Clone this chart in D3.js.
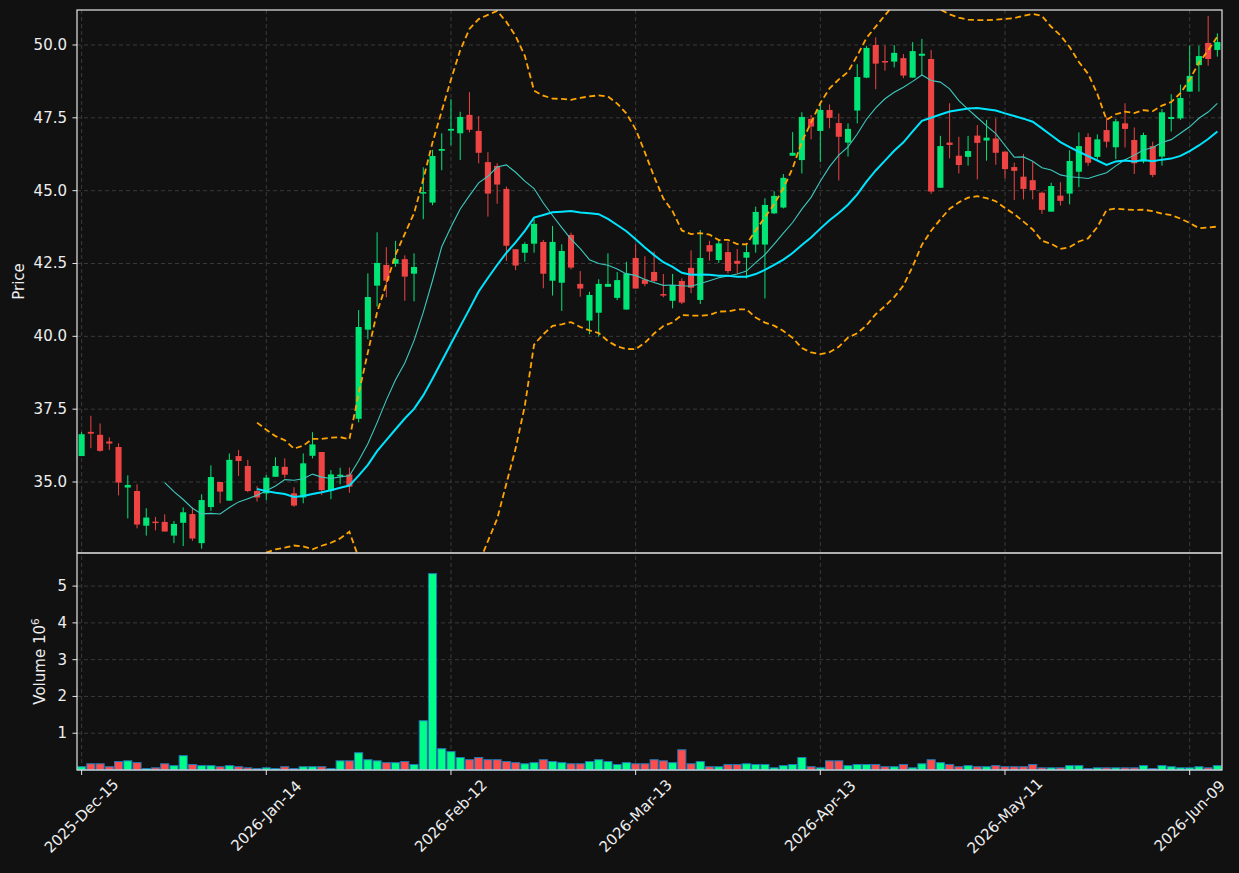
<!DOCTYPE html>
<html>
<head>
<meta charset="utf-8">
<script src="https://cdn.jsdelivr.net/npm/d3@7"></script>
<style>
  body { margin: 0; background: #111111; }
  text { font-family: "DejaVu Sans", sans-serif; }
</style>
</head>
<body>
<div class="canva"></div>
<script>
// daily OHLC
const open = [
  35.89,36.72,36.62,36.39,36.20,34.81,34.69,33.50,33.64,33.63,
  33.16,33.60,33.90,32.90,34.14,35.00,34.36,35.89,35.55,34.69,
  34.61,35.18,35.52,34.61,34.47,35.90,36.03,34.70,35.20,35.26,
  37.17,40.23,41.74,42.45,42.49,42.65,42.15,44.90,44.59,46.37,
  47.06,46.97,47.60,47.05,45.98,45.85,45.06,42.99,42.87,43.18,
  43.24,41.91,41.84,43.48,41.80,40.54,40.81,41.70,41.32,40.92,
  42.69,41.95,42.21,41.45,41.22,41.90,42.35,41.25,43.13,42.62,
  42.89,42.59,42.70,43.15,43.15,44.22,44.42,46.20,46.05,47.46,
  47.05,47.77,47.32,46.65,47.75,48.88,50.00,49.45,49.43,49.55,
  48.88,49.63,49.52,45.10,46.65,46.20,46.16,46.89,46.72,46.79,
  46.34,45.81,45.48,45.36,44.93,44.28,44.83,44.90,45.65,46.84,
  46.16,47.08,46.49,47.31,46.74,46.00,46.53,46.17,47.46,47.48,
  48.40,49.31,50.07,49.83
];
const high = [
  36.71,37.27,37.01,36.53,36.33,35.23,34.92,34.10,33.80,33.89,
  33.66,34.13,34.13,34.58,35.57,35.00,35.98,36.10,35.76,34.86,
  35.24,35.85,35.81,34.82,35.98,36.71,36.03,35.41,35.49,35.50,
  40.90,42.16,43.57,43.06,43.28,42.78,42.85,45.80,46.40,46.97,
  48.14,47.71,48.38,47.56,46.32,45.94,45.14,42.99,43.23,44.02,
  43.31,43.79,43.16,43.56,42.24,41.53,41.96,42.85,42.21,42.56,
  43.16,42.75,42.91,42.14,42.14,41.99,42.95,43.65,43.28,43.30,
  43.25,43.00,43.16,44.45,44.74,44.98,45.57,47.01,47.69,47.60,
  47.97,47.96,47.65,47.31,49.34,49.97,50.26,49.99,50.00,49.69,
  50.10,50.21,49.83,46.88,48.00,46.85,46.88,47.25,47.43,47.48,
  46.34,45.96,46.26,45.99,44.97,45.27,45.29,46.39,47.00,46.97,
  46.93,47.52,47.46,48.00,47.17,46.99,46.68,47.80,48.31,48.64,
  49.98,49.98,51.00,50.40
];
const low = [
  35.89,36.16,36.04,36.10,34.54,33.75,33.41,33.16,33.34,33.30,
  32.90,32.80,32.98,32.71,34.01,34.27,34.36,35.21,34.65,34.33,
  34.38,35.18,35.13,34.15,34.27,35.81,34.55,34.41,34.92,34.63,
  37.05,39.90,41.02,41.34,42.39,41.22,41.20,44.02,44.50,45.70,
  46.56,46.05,47.00,45.94,44.11,44.55,42.59,42.27,42.56,42.87,
  41.65,41.40,40.87,42.30,41.36,40.07,39.99,41.70,41.24,40.92,
  41.64,41.72,41.84,41.34,40.96,41.11,41.48,41.11,42.60,42.52,
  42.16,42.16,41.99,42.87,41.30,44.20,44.39,46.20,45.59,46.76,
  45.98,47.14,45.35,46.17,47.31,48.86,48.48,49.12,49.23,48.86,
  48.88,48.97,44.89,45.10,46.11,45.59,45.86,45.39,46.03,45.89,
  45.42,44.68,44.70,44.70,44.20,44.28,44.49,44.53,45.12,45.85,
  46.08,46.48,46.08,46.48,45.57,45.94,45.46,45.86,47.03,47.43,
  48.40,48.40,49.29,49.60
];
const close = [
  36.64,36.66,36.07,36.32,34.98,34.90,33.54,33.78,33.59,33.30,
  33.56,33.96,33.06,34.38,35.17,34.67,35.76,35.72,34.69,34.47,
  35.15,35.55,35.25,34.19,35.64,36.29,34.72,35.26,35.25,34.84,
  40.32,41.35,42.52,41.91,42.65,42.05,42.38,44.95,46.19,46.43,
  47.12,47.53,47.09,46.30,44.90,45.21,43.11,42.43,43.17,43.86,
  42.15,43.24,42.93,42.36,41.64,41.42,41.80,41.80,41.93,42.16,
  41.64,41.80,41.90,41.40,41.76,41.16,41.67,42.69,42.91,43.19,
  42.24,42.49,42.89,44.27,44.51,44.82,45.44,46.30,47.53,47.20,
  47.77,47.50,46.85,47.12,48.90,49.90,49.36,49.42,49.73,48.95,
  49.79,49.70,44.97,46.53,46.57,45.88,46.36,46.64,46.82,46.30,
  45.74,45.68,45.06,45.02,44.34,45.16,44.65,46.02,46.53,45.96,
  46.76,46.68,47.38,47.12,45.94,46.91,45.54,47.69,47.53,48.18,
  48.94,49.62,49.52,50.10
];
// volume in millions
const volume = [
  0.09,0.17,0.17,0.09,0.23,0.25,0.20,0.04,0.06,0.17,
  0.12,0.39,0.15,0.12,0.12,0.09,0.12,0.09,0.06,0.04,
  0.06,0.04,0.09,0.04,0.09,0.09,0.09,0.04,0.25,0.25,
  0.47,0.28,0.25,0.20,0.20,0.23,0.15,1.34,5.34,0.58,
  0.50,0.34,0.28,0.34,0.28,0.28,0.23,0.20,0.17,0.20,
  0.28,0.23,0.20,0.17,0.17,0.23,0.28,0.23,0.15,0.20,
  0.17,0.17,0.28,0.25,0.20,0.55,0.17,0.23,0.09,0.09,
  0.15,0.15,0.17,0.15,0.15,0.06,0.12,0.15,0.34,0.09,
  0.06,0.25,0.25,0.12,0.15,0.15,0.15,0.09,0.09,0.15,
  0.06,0.17,0.28,0.20,0.15,0.09,0.12,0.09,0.09,0.12,
  0.09,0.09,0.09,0.15,0.06,0.06,0.06,0.12,0.12,0.04,
  0.06,0.06,0.06,0.06,0.06,0.12,0.04,0.12,0.09,0.06,
  0.06,0.09,0.06,0.12
];
const priceTicks = [35.0, 37.5, 40.0, 42.5, 45.0, 47.5, 50.0];
const volumeTicks = [1, 2, 3, 4, 5];
const holidays = ["2025-12-25","2026-01-01","2026-01-19","2026-02-16","2026-04-03","2026-05-25"];

// trading days from 2025-12-15
const dayKey = d3.timeFormat("%Y-%m-%d");
const dates = [];
let day = new Date(2025, 11, 15);
while (dates.length < close.length) {
  const wd = day.getDay();
  if (wd !== 0 && wd !== 6 && !holidays.includes(dayKey(day))) dates.push(new Date(day));
  day = d3.timeDay.offset(day, 1);
}
const fmtTick = d3.timeFormat("%Y-%b-%d");
const tickIdx = d3.range(0, dates.length, 20);

const idx = d3.range(close.length);
const up = idx.map(i => close[i] >= open[i]);

// indicators
const sma = (n) => idx.map(i => i < n - 1 ? null : d3.mean(close.slice(i - n + 1, i + 1)));
const ma10 = sma(10);
const ma20 = sma(20);
const sd20 = idx.map(i => i < 19 ? null : d3.deviation(close.slice(i - 19, i + 1)));
const bbUp = idx.map(i => ma20[i] == null ? null : ma20[i] + 2 * sd20[i]);
const bbLo = idx.map(i => ma20[i] == null ? null : ma20[i] - 2 * sd20[i]);

// layout
const W = 1239, H = 873;
const left = 77, right = 1222;
const pTop = 10, pBot = 553, vTop = 553, vBot = 770;
const txtCol = "#eeeeee", gridCol = "#3a3a3a", spineCol = "#e6e6e6";
const upCol = "#00e676", dnCol = "#ef4444";
const vUpCol = "#00ff88", vDnCol = "#ff4d4d";

const svg = d3.select(".canva").append("svg")
  .attr("width", W).attr("height", H);
svg.append("rect").attr("width", W).attr("height", H).attr("fill", "#111111");

const x = d3.scaleBand().domain(idx).range([left, right]).paddingInner(0).paddingOuter(0);
const bw = x.bandwidth();
const cx = i => x(i) + bw / 2;
const y = d3.scaleLinear().domain([32.563, 51.201]).range([pBot, pTop]);
const yv = d3.scaleLinear().domain([0, 5.9]).range([vBot, vTop]);

svg.append("clipPath").attr("id", "pclip")
  .append("rect").attr("x", left).attr("y", pTop).attr("width", right - left).attr("height", pBot - pTop);

// grids
const grid = svg.append("g").attr("stroke", gridCol).attr("stroke-width", 1).attr("stroke-dasharray", "4,3");
grid.selectAll(".gy").data(priceTicks).enter().append("line")
  .attr("x1", left).attr("x2", right).attr("y1", d => y(d)).attr("y2", d => y(d));
grid.selectAll(".gv").data(volumeTicks).enter().append("line")
  .attr("x1", left).attr("x2", right).attr("y1", d => yv(d)).attr("y2", d => yv(d));
grid.selectAll(".gx").data(tickIdx).enter().append("line")
  .attr("x1", d => cx(d)).attr("x2", d => cx(d)).attr("y1", pTop).attr("y2", vBot);

// volume bars
svg.append("g").selectAll("rect").data(idx).enter().append("rect")
  .attr("x", i => cx(i) - bw * 0.44)
  .attr("width", bw * 0.88)
  .attr("y", i => yv(volume[i]))
  .attr("height", i => vBot - yv(volume[i]))
  .attr("fill", i => up[i] ? vUpCol : vDnCol)
  .attr("stroke", "#1f77b4")
  .attr("stroke-width", 1);

// candles
const pg = svg.append("g").attr("clip-path", "url(#pclip)");
pg.selectAll(".wick").data(idx).enter().append("line")
  .attr("x1", i => cx(i)).attr("x2", i => cx(i))
  .attr("y1", i => y(high[i])).attr("y2", i => y(low[i]))
  .attr("stroke", i => up[i] ? upCol : dnCol).attr("stroke-width", 1);
pg.selectAll(".body").data(idx).enter().append("rect")
  .attr("x", i => cx(i) - bw * 0.33)
  .attr("width", bw * 0.66)
  .attr("y", i => y(Math.max(open[i], close[i])))
  .attr("height", i => Math.max(1.5, Math.abs(y(open[i]) - y(close[i]))))
  .attr("fill", i => up[i] ? upCol : dnCol);

// indicator lines
const line = d3.line().defined(i => i[1] != null).x(d => cx(d[0])).y(d => y(d[1]));
const path = (arr, col, w, dash) => pg.append("path")
  .datum(idx.map(i => [i, arr[i]]))
  .attr("d", d3.line().defined(d => d[1] != null).x(d => cx(d[0])).y(d => y(d[1])))
  .attr("fill", "none").attr("stroke", col).attr("stroke-width", w)
  .attr("stroke-dasharray", dash);
path(bbUp, "#ffa500", 1.8, "6,3.5");
path(bbLo, "#ffa500", 1.8, "6,3.5");
path(ma10, "#3cc9bd", 1.1, null);
path(ma20, "#00e5ff", 2, null);

// spines
svg.append("rect").attr("x", left).attr("y", pTop).attr("width", right - left).attr("height", vBot - pTop)
  .attr("fill", "none").attr("stroke", spineCol).attr("stroke-width", 1.2);
svg.append("line").attr("x1", left).attr("x2", right).attr("y1", pBot).attr("y2", pBot)
  .attr("stroke", spineCol).attr("stroke-width", 1.5);

// y ticks price
const yt = svg.append("g");
yt.selectAll("line").data(priceTicks).enter().append("line")
  .attr("x1", left - 4.5).attr("x2", left).attr("y1", d => y(d)).attr("y2", d => y(d))
  .attr("stroke", spineCol);
yt.selectAll("text").data(priceTicks).enter().append("text")
  .text(d => d.toFixed(1))
  .attr("x", left - 10).attr("y", d => y(d))
  .attr("text-anchor", "end").attr("dominant-baseline", "central")
  .attr("font-size", 15).attr("fill", txtCol);

// y ticks volume
const vt = svg.append("g");
vt.selectAll("line").data(volumeTicks).enter().append("line")
  .attr("x1", left - 4.5).attr("x2", left).attr("y1", d => yv(d)).attr("y2", d => yv(d))
  .attr("stroke", spineCol);
vt.selectAll("text").data(volumeTicks).enter().append("text")
  .text(d => d)
  .attr("x", left - 10).attr("y", d => yv(d))
  .attr("text-anchor", "end").attr("dominant-baseline", "central")
  .attr("font-size", 15).attr("fill", txtCol);

// x ticks
const xt = svg.append("g");
xt.selectAll("line").data(tickIdx).enter().append("line")
  .attr("x1", d => cx(d)).attr("x2", d => cx(d)).attr("y1", vBot).attr("y2", vBot + 5)
  .attr("stroke", spineCol);
xt.selectAll("text").data(tickIdx).enter().append("text")
  .text(d => fmtTick(dates[d]))
  .attr("transform", d => `translate(${cx(d)},816) rotate(-45)`)
  .attr("text-anchor", "middle").attr("dominant-baseline", "central")
  .attr("font-size", 15).attr("fill", txtCol);

// axis labels
svg.append("text").text("Price")
  .attr("transform", `translate(24,${(pTop + pBot) / 2}) rotate(-90)`)
  .attr("text-anchor", "middle").attr("font-size", 15).attr("fill", txtCol);
const vl = svg.append("text")
  .attr("transform", `translate(45,${(vTop + vBot) / 2}) rotate(-90)`)
  .attr("text-anchor", "middle").attr("font-size", 15).attr("fill", txtCol);
vl.append("tspan").text("Volume  10");
vl.append("tspan").text("6").attr("font-size", 10.5).attr("dy", -6);
</script>
</body>
</html>
